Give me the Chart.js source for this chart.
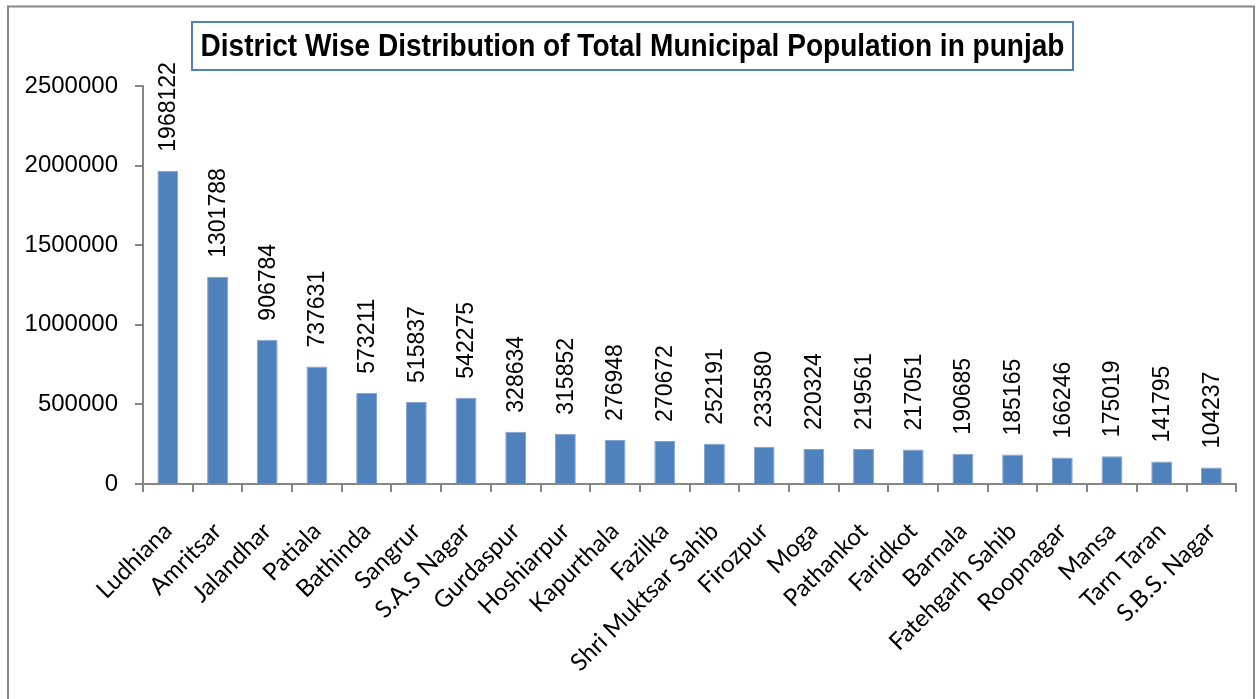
<!DOCTYPE html>
<html>
<head>
<meta charset="utf-8">
<script src="https://cdn.jsdelivr.net/npm/chart.js@4.4.1/dist/chart.umd.min.js"></script>
<style>
  html, body { margin: 0; padding: 0; background: #fff; overflow: hidden; }
  canvas { display: block; }
</style>
</head>
<body>
<canvas id="c" width="1257" height="699"></canvas>
<script>
const TITLE = 'District Wise Distribution of Total Municipal Population in punjab';
const districts = ['Ludhiana', 'Amritsar', 'Jalandhar', 'Patiala', 'Bathinda', 'Sangrur', 'S.A.S Nagar',
  'Gurdaspur', 'Hoshiarpur', 'Kapurthala', 'Fazilka', 'Shri Muktsar Sahib', 'Firozpur', 'Moga',
  'Pathankot', 'Faridkot', 'Barnala', 'Fatehgarh Sahib', 'Roopnagar', 'Mansa', 'Tarn Taran', 'S.B.S. Nagar'];
const population = [1968122, 1301788, 906784, 737631, 573211, 515837, 542275,
  328634, 315852, 276948, 270672, 252191, 233580, 220324,
  219561, 217051, 190685, 185165, 166246, 175019, 141795, 104237];
const yTicks = [0, 500000, 1000000, 1500000, 2000000, 2500000];

const AXIS_COLOR = '#868686';
const BAR_COLOR = '#4F81BD';

const framePlugin = {
  id: 'frame',
  beforeDraw(chart) {
    const ctx = chart.ctx;
    ctx.save();
    ctx.fillStyle = '#fff';
    ctx.fillRect(0, 0, chart.width, chart.height);
    ctx.strokeStyle = AXIS_COLOR;
    ctx.lineWidth = 2;
    ctx.strokeRect(8, 6.5, 1246, 800);
    ctx.restore();
  }
};

const valueLabelPlugin = {
  id: 'valueLabels',
  afterDatasetsDraw(chart) {
    const ctx = chart.ctx;
    const meta = chart.getDatasetMeta(0);
    const data = chart.data.datasets[0].data;
    ctx.save();
    ctx.fillStyle = '#000';
    ctx.font = '23px "Liberation Sans", Arial, sans-serif';
    ctx.textAlign = 'left';
    ctx.textBaseline = 'middle';
    meta.data.forEach((bar, i) => {
      ctx.save();
      ctx.translate(bar.x + 1, bar.y - 19);
      ctx.rotate(-Math.PI / 2);
      ctx.fillText(String(data[i]), 0, 0);
      ctx.restore();
    });
    ctx.restore();
  }
};

const titleBoxPlugin = {
  id: 'titleBox',
  afterDraw(chart) {
    const ctx = chart.ctx;
    const bx = 192, by = 22, bw = 881, bh = 48;
    ctx.save();
    ctx.fillStyle = '#fff';
    ctx.fillRect(bx, by, bw, bh);
    ctx.strokeStyle = '#4F81BD';
    ctx.lineWidth = 2;
    ctx.strokeRect(bx, by, bw, bh);
    ctx.font = 'bold 31px "Liberation Sans", Arial, sans-serif';
    ctx.fillStyle = '#000';
    ctx.textBaseline = 'middle';
    ctx.textAlign = 'center';
    const w = ctx.measureText(TITLE).width;
    const target = 864;
    ctx.translate(bx + bw / 2, by + bh / 2 + 1);
    ctx.scale(target / w, 1);
    ctx.fillText(TITLE, 0, 0);
    ctx.restore();
  }
};

new Chart(document.getElementById('c'), {
  type: 'bar',
  data: {
    labels: districts,
    datasets: [{
      data: population,
      backgroundColor: BAR_COLOR,
      borderColor: '#7fa3d1',
      borderWidth: { left: 1, right: 1, top: 1, bottom: 0 },
      barPercentage: 0.42,
      categoryPercentage: 1.0
    }]
  },
  options: {
    responsive: false,
    animation: false,
    devicePixelRatio: 1,
    layout: { padding: { left: 0, top: 86, right: 12, bottom: 0 } },
    plugins: {
      legend: { display: false },
      title: { display: false },
      tooltip: { enabled: false }
    },
    scales: {
      x: {
        afterFit(scale) { scale.height = 699 - 484; },
        grid: {
          display: true,
          drawOnChartArea: false,
          drawTicks: true,
          tickLength: 8,
          color: AXIS_COLOR,
          lineWidth: 2,
          offset: true
        },
        border: { display: true, color: AXIS_COLOR, width: 2 },
        ticks: {
          autoSkip: false,
          maxRotation: 45,
          minRotation: 45,
          padding: 25,
          color: '#000',
          font: { family: 'Lato, "Open Sans", sans-serif', size: 24 }
        }
      },
      y: {
        min: 0,
        max: 2500000,
        afterFit(scale) { scale.width = 143; },
        afterBuildTicks(scale) { scale.ticks = yTicks.map(v => ({ value: v })); },
        grid: {
          display: true,
          drawOnChartArea: false,
          drawTicks: true,
          tickLength: 8,
          color: AXIS_COLOR,
          lineWidth: 2
        },
        border: { display: true, color: AXIS_COLOR, width: 2 },
        ticks: {
          padding: 17,
          color: '#000',
          font: { family: '"Liberation Sans", Arial, sans-serif', size: 24 },
          callback: (v) => String(v)
        }
      }
    }
  },
  plugins: [framePlugin, valueLabelPlugin, titleBoxPlugin]
});
</script>
</body>
</html>
